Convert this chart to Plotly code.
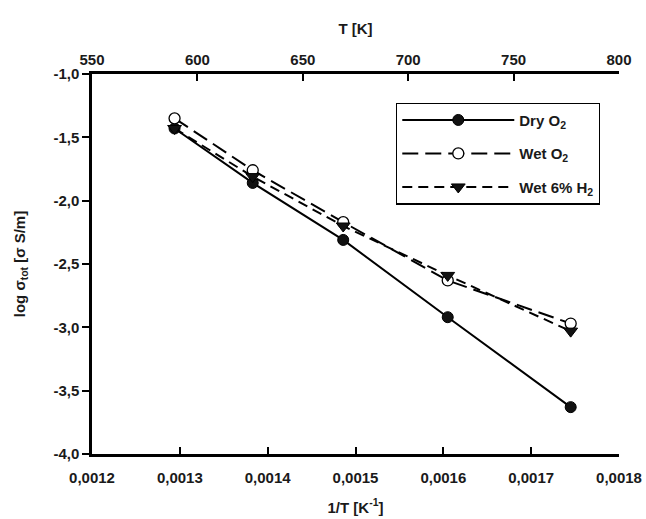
import plotly.graph_objects as go

# ---- data ----
inv_T = [0.001294, 0.001383, 0.001486, 0.001605, 0.001745]
dry_o2 = [-1.43, -1.86, -2.31, -2.92, -3.63]
wet_o2 = [-1.35, -1.76, -2.17, -2.63, -2.97]
wet_h2 = [-1.43, -1.81, -2.20, -2.59, -3.03]

x_ticks = [0.0012, 0.0013, 0.0014, 0.0015, 0.0016, 0.0017, 0.0018]
x_ticktext = ["0,0012", "0,0013", "0,0014", "0,0015", "0,0016", "0,0017", "0,0018"]
y_ticks = [-4.0, -3.5, -3.0, -2.5, -2.0, -1.5, -1.0]
y_ticktext = ["-4,0", "-3,5", "-3,0", "-2,5", "-2,0", "-1,5", "-1,0"]
t_ticks = [550, 600, 650, 700, 750, 800]
t_ticktext = ["550", "600", "650", "700", "750", "800"]

FONT = "Liberation Sans, Arial, sans-serif"
TXT = "#1a1a1a"

fig = go.Figure()

fig.add_trace(go.Scatter(
    x=inv_T, y=dry_o2, name="<b>Dry O<sub>2</sub></b>", mode="lines+markers",
    legendgroup="a",
    line=dict(color="black", width=2),
    marker=dict(symbol="circle", size=11, color="#111111", line=dict(color="black", width=1)),
))
fig.add_trace(go.Scatter(
    x=inv_T, y=wet_o2, name="<b>Wet O<sub>2</sub></b>", mode="lines+markers",
    legendgroup="b",
    line=dict(color="black", width=2, dash="16px,7px"),
    marker=dict(symbol="circle", size=11, color="white", line=dict(color="black", width=1.3)),
))
fig.add_trace(go.Scatter(
    x=inv_T, y=wet_h2, name="<b>Wet 6% H<sub>2</sub></b>", mode="lines+markers",
    legendgroup="c",
    line=dict(color="black", width=2, dash="10px,6px"),
    marker=dict(symbol="triangle-down", size=12, color="#111111", line=dict(color="black", width=1)),
))
# invisible trace to activate the top temperature axis
fig.add_trace(go.Scatter(
    x=t_ticks, y=[None] * len(t_ticks), xaxis="x2", yaxis="y",
    mode="markers", showlegend=False, hoverinfo="skip",
))

axis_common = dict(
    showline=True, linecolor="black", linewidth=2.5, mirror=False, automargin=False,
    showgrid=False, zeroline=False, tickcolor="black", tickwidth=2, ticklen=7,
    tickfont=dict(family=FONT, size=15, color=TXT, weight="bold"),
)

fig.update_layout(
    template="simple_white",
    width=646, height=519,
    margin=dict(l=92, r=27, t=74, b=65),
    paper_bgcolor="white", plot_bgcolor="white",
    font=dict(family=FONT, size=15, color=TXT),
    xaxis=dict(
        range=[0.0012, 0.0018], tickmode="array", tickvals=x_ticks, ticktext=x_ticktext,
        ticks="inside", ticklabelstandoff=8,
        title=dict(text="<b>1/T [K<sup>-1</sup>]</b>", standoff=18,
                   font=dict(family=FONT, size=15, color=TXT)),
        **axis_common,
    ),
    xaxis2=dict(
        range=[550, 800], overlaying="x", side="top", anchor="y",
        tickmode="array", tickvals=t_ticks, ticktext=t_ticktext,
        ticks="inside", ticklabelstandoff=0,
        title=dict(text="<b>T [K]</b>", standoff=14,
                   font=dict(family=FONT, size=15, color=TXT)),
        **axis_common,
    ),
    yaxis=dict(
        range=[-4.0, -1.0], tickmode="array", tickvals=y_ticks, ticktext=y_ticktext,
        ticks="outside",
        title=dict(text="<b>log σ<sub>tot</sub> [σ S/m]</b>", standoff=25,
                   font=dict(family=FONT, size=15, color=TXT)),
        **axis_common,
    ),
    legend=dict(
        x=0.577, y=0.925, xanchor="left", yanchor="top",
        bordercolor="black", borderwidth=1.2, bgcolor="white",
        font=dict(family=FONT, size=15, color=TXT),
        itemwidth=112, tracegroupgap=11,
    ),
    showlegend=True,
)

fig.write_html("out.html", config={"displayModeBar": False},
               post_script="document.body.style.margin='0px';")
